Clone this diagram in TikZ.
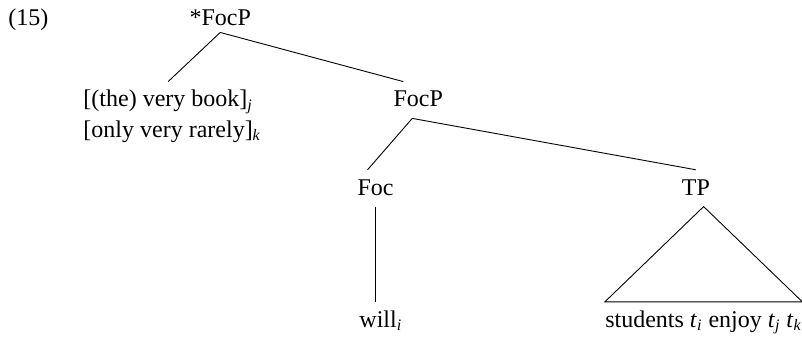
\documentclass[tikz,border=0pt]{standalone}
\usepackage{fontspec}
\setmainfont{Liberation Serif}
\newcommand{\trsub}[1]{\textsubscript{\textit{#1}}}

\begin{document}
\begin{tikzpicture}[
    word/.style={font=\fontsize{12}{15}\selectfont, inner xsep=0pt, inner ysep=3.5pt, text height=9pt, text depth=2pt},
    branch/.style={line width=0.45pt}
]
    \useasboundingbox (0,0) rectangle (14.094,-5.905);

    \node[word, anchor=base west] (ex) at (0.14, -0.44) {(15)};
    \node[word, anchor=base, text depth=0pt] (root) at (3.87, -0.44) {*FocP};

    \node[word, anchor=base west] (spec1) at (1.46, -1.88) {[(the) very book]\trsub{j}};
    \node[word, anchor=base west] (spec2) at (1.46, -2.41) {[only very rarely]\trsub{k}};
    \node[word, anchor=base] (focp) at (7.35, -1.88) {FocP};

    \node[word, anchor=base] (foc) at (6.60, -3.43) {Foc};
    \node[word, anchor=base] (tp) at (12.23, -3.43) {TP};

    \node[word, anchor=base west] (will) at (6.31, -5.75) {will\trsub{i}};
    \node[word, anchor=base west] (stud) at (10.63, -5.75) {students \textit{t}\trsub{i} enjoy \textit{t}\trsub{j} \textit{t}\trsub{k}};

    \draw[branch] (root.south) -- (spec1.north);
    \draw[branch] (root.south) -- ([xshift=-7.5pt]focp.north);
    \draw[branch] ([xshift=-3pt]focp.south) -- ([xshift=-4pt]foc.north);
    \draw[branch] ([xshift=-3pt]focp.south) -- (tp.north);
    \draw[branch] (foc.south) -- (foc.south |- will.north);
    \draw[branch] (stud.north |- tp.south) -- (stud.north west) -- (stud.north east) -- cycle;
\end{tikzpicture}
\end{document}
